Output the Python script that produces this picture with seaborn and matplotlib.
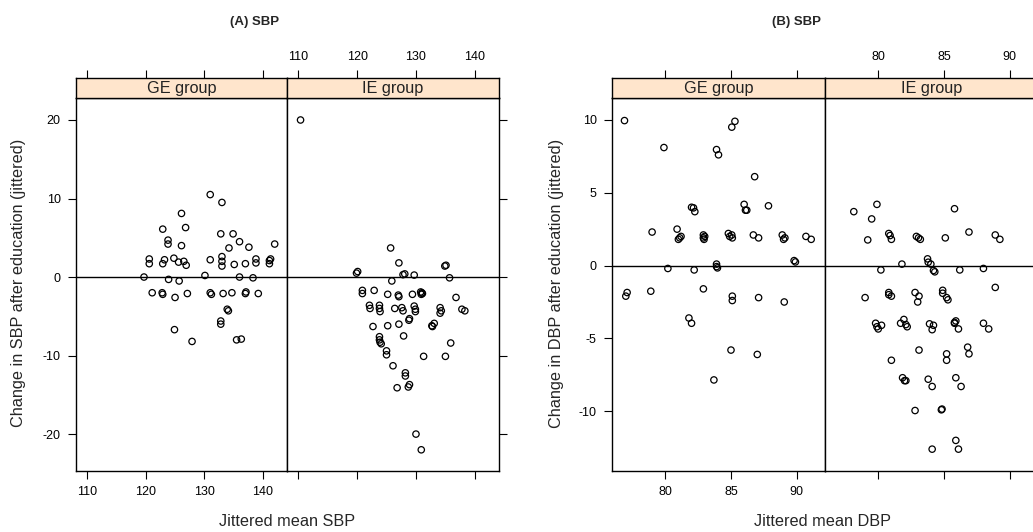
import numpy as np
import pandas as pd
import matplotlib
matplotlib.use("Agg")
import matplotlib.pyplot as plt
import seaborn as sns

sns.set_style("ticks")
plt.rcParams['font.family'] = ['Liberation Sans', 'DejaVu Sans']
plt.rcParams['axes.unicode_minus'] = False

# --- DATA ---
# (A) SBP, GE group
sbp_ge_x = [131.0, 133.0, 126.1, 122.9, 126.8, 123.8, 123.8, 126.1, 132.8, 134.9,
            136.0, 134.2, 137.6, 142.0, 120.6, 120.6, 122.9, 123.2, 124.8, 125.6,
            126.5, 126.9, 131.0, 133.0, 133.0, 133.0, 135.1, 137.0, 138.8, 138.8,
            141.1, 141.1, 141.3, 119.7, 123.9, 125.7, 130.1, 136.0, 138.3, 121.1,
            122.8, 122.9, 125.0, 127.1, 131.0, 131.2, 133.2, 134.7, 137.0, 137.1,
            139.2, 133.9, 134.1, 132.8, 132.8, 124.9, 127.9, 135.5, 136.3]
sbp_ge_y = [10.5, 9.5, 8.1, 6.1, 6.3, 4.7, 4.2, 4.0, 5.5, 5.5,
            4.5, 3.7, 3.8, 4.2, 2.3, 1.7, 1.7, 2.2, 2.4, 1.9,
            2.0, 1.5, 2.2, 2.6, 2.0, 1.4, 1.6, 1.7, 2.3, 1.8,
            2.1, 1.7, 2.3, 0.0, -0.3, -0.5, 0.2, 0.0, -0.1, -2.0,
            -2.0, -2.2, -2.6, -2.1, -2.0, -2.2, -2.1, -2.0, -2.1, -1.9,
            -2.1, -4.1, -4.3, -5.6, -6.0, -6.7, -8.2, -8.0, -7.9]

# (A) SBP, IE group
sbp_ie_x = [110.4, 125.7, 127.1, 119.9, 120.1, 127.8, 128.1, 129.7, 134.9, 135.1,
            125.9, 135.7, 120.9, 120.9, 122.9, 125.2, 127.0, 127.1, 129.4, 130.8,
            131.0, 131.1, 130.9, 136.8, 122.1, 122.2, 123.8, 123.8, 123.9, 126.4,
            127.6, 127.8, 129.7, 129.9, 129.9, 134.1, 134.3, 134.1, 137.8, 138.3,
            128.9, 122.7, 125.2, 127.1, 128.8, 132.7, 132.8, 133.1, 123.8, 123.8,
            123.9, 124.1, 127.9, 135.9, 125.0, 125.0, 131.3, 135.0, 126.1, 128.2,
            128.2, 126.8, 128.7, 128.9, 130.0, 130.9]
sbp_ie_y = [20.0, 3.7, 1.8, 0.5, 0.7, 0.3, 0.4, 0.25, 1.4, 1.5,
            -0.5, -0.1, -1.7, -2.1, -1.7, -2.2, -2.3, -2.5, -2.2, -1.9,
            -2.0, -2.1, -2.2, -2.6, -3.6, -4.0, -3.6, -4.0, -4.4, -4.0,
            -3.9, -4.3, -3.7, -4.1, -4.4, -3.9, -4.3, -4.6, -4.1, -4.3,
            -5.3, -6.3, -6.2, -6.0, -5.5, -6.2, -6.3, -5.9, -7.6, -8.0,
            -8.3, -8.5, -7.5, -8.4, -9.4, -9.9, -10.1, -10.1, -11.3, -12.2,
            -12.6, -14.1, -14.0, -13.7, -20.0, -22.0]

# (B) DBP, GE group
dbp_ge_x = [76.9, 79.9, 83.9, 84.05, 85.06, 85.3, 86.8, 82.0, 82.15, 82.25,
            86.0, 86.1, 86.2, 87.85, 79.0, 80.9, 81.0, 81.1, 81.2, 82.9,
            82.9, 83.0, 82.95, 84.8, 84.9, 85.06, 85.1, 86.7, 87.1, 88.9,
            89.0, 89.1, 90.7, 91.1, 80.2, 82.2, 83.9, 83.9, 83.97, 89.8,
            89.9, 77.0, 77.1, 78.9, 82.9, 85.1, 85.1, 87.1, 89.05, 81.8,
            82.0, 85.0, 87.0, 83.7]
dbp_ge_y = [9.95, 8.1, 7.96, 7.6, 9.5, 9.9, 6.1, 4.0, 3.96, 3.7,
            4.2, 3.8, 3.8, 4.1, 2.3, 2.5, 1.8, 1.9, 2.0, 2.1,
            1.9, 2.0, 1.8, 2.2, 2.0, 2.1, 1.9, 2.1, 1.9, 2.1,
            1.8, 1.9, 2.0, 1.8, -0.2, -0.3, 0.1, -0.07, -0.16, 0.34,
            0.25, -2.1, -1.85, -1.76, -1.6, -2.1, -2.4, -2.2, -2.5, -3.6,
            -3.96, -5.8, -6.1, -7.85]

# (B) DBP, IE group
dbp_ie_x = [78.14, 79.9, 79.5, 79.2, 80.8, 80.9, 81.0, 82.9, 83.06, 83.2,
            85.8, 85.1, 86.9, 88.9, 89.25, 81.8, 83.75, 83.8, 84.0, 84.2,
            84.3, 80.2, 86.2, 88.0, 88.9, 79.0, 80.8, 80.8, 81.0, 82.8,
            83.1, 83.0, 84.9, 84.9, 85.2, 85.3, 79.8, 79.9, 80.0, 80.25,
            81.7, 81.95, 82.1, 82.2, 83.9, 84.1, 84.2, 85.8, 85.8, 85.9,
            86.1, 88.0, 88.4, 83.1, 85.2, 85.2, 86.8, 86.9, 81.0, 81.85,
            82.0, 82.1, 83.8, 84.1, 85.9, 86.3, 82.8, 84.8, 84.85, 84.1,
            85.9, 86.1]
dbp_ie_y = [3.7, 4.2, 3.2, 1.76, 2.2, 2.06, 1.8, 2.0, 1.9, 1.8,
            3.9, 1.9, 2.3, 2.1, 1.8, 0.1, 0.46, 0.23, 0.1, -0.34,
            -0.43, -0.3, -0.3, -0.2, -1.5, -2.2, -1.85, -2.0, -2.1, -1.85,
            -2.1, -2.5, -1.7, -1.9, -2.2, -2.35, -3.96, -4.2, -4.35, -4.1,
            -3.96, -3.7, -4.05, -4.2, -4.0, -4.4, -4.1, -3.9, -3.96, -3.8,
            -4.35, -3.96, -4.35, -5.8, -6.06, -6.5, -5.6, -6.06, -6.5, -7.7,
            -7.9, -7.9, -7.8, -8.3, -7.7, -8.3, -9.95, -9.9, -9.85, -12.6,
            -12.0, -12.6]

groups = ["GE group", "IE group"]
sbp_xticks = [110, 120, 130, 140]
sbp_yticks = [-20, -10, 0, 10, 20]
dbp_xticks = [80, 85, 90]
dbp_yticks = [-10, -5, 0, 5, 10]

STRIP_COL = "#FFE5CC"
W, H = 1033, 532


def px_box(x0, y0, x1, y1):
    """piksel koordinatlarindan figure koordinatlarina"""
    return [x0 / W, 1 - y1 / H, (x1 - x0) / W, (y1 - y0) / H]


def draw_panel(fig, x0, x1, xs, ys, label, first, xlim, ylim, xticks, yticks):
    ax = fig.add_axes(px_box(x0, 98, x1, 471))
    sax = fig.add_axes(px_box(x0, 78, x1, 98), sharex=ax)

    df = pd.DataFrame({"x": xs, "y": ys})
    sns.scatterplot(data=df, x="x", y="y", ax=ax, marker="o", s=21,
                    facecolor="none", edgecolor="black", linewidth=0.9,
                    legend=False)
    ax.axhline(0, color="black", lw=1.0, zorder=0)

    ax.set_xlim(*xlim)
    ax.set_ylim(*ylim)
    ax.set_xticks(xticks)
    ax.set_yticks(yticks)
    ax.set_xlabel("")
    ax.set_ylabel("")

    tp = dict(direction="out", length=6, width=0.8, labelsize=9, pad=5, colors="black")
    if first:
        ax.tick_params(left=True, labelleft=True, right=False, labelright=False,
                       bottom=True, labelbottom=True, **tp)
    else:
        ax.tick_params(left=False, labelleft=False, right=True, labelright=False,
                       bottom=True, labelbottom=False, **tp)
    sax.tick_params(bottom=False, labelbottom=False, top=True, labeltop=not first,
                    left=False, labelleft=False, **tp)
    sax.set_yticks([])
    sax.set_facecolor(STRIP_COL)
    sax.text(0.5, 0.45, label, ha="center", va="center", fontsize=11.7,
             color="#222222", transform=sax.transAxes)

    for a in (ax, sax):
        for sp in a.spines.values():
            sp.set_color("black")
            sp.set_linewidth(1.0)
    return ax


fig = plt.figure(figsize=(W / 100, H / 100), dpi=100)

# (A) SBP
sbp_xlim = (108.1, 144.1)
sbp_ylim = (-24.7, 22.8)
draw_panel(fig, 76, 287, sbp_ge_x, sbp_ge_y, groups[0], True, sbp_xlim, sbp_ylim, sbp_xticks, sbp_yticks)
draw_panel(fig, 287, 499, sbp_ie_x, sbp_ie_y, groups[1], False, sbp_xlim, sbp_ylim, sbp_xticks, sbp_yticks)

# (B) DBP
dbp_xlim = (75.95, 92.15)
dbp_ylim = (-14.1, 11.5)
draw_panel(fig, 612, 825, dbp_ge_x, dbp_ge_y, groups[0], True, dbp_xlim, dbp_ylim, dbp_xticks, dbp_yticks)
draw_panel(fig, 825, 1038, dbp_ie_x, dbp_ie_y, groups[1], False, dbp_xlim, dbp_ylim, dbp_xticks, dbp_yticks)

# Basliklar ve eksen etiketleri
fig.text(255 / W, 1 - 22 / H, "(A) SBP", ha="center", va="center", fontsize=9.5, fontweight="bold")
fig.text(796 / W, 1 - 22 / H, "(B) SBP", ha="center", va="center", fontsize=9.5, fontweight="bold")
fig.text(287 / W, 1 - 521 / H, "Jittered mean SBP", ha="center", va="center", fontsize=11.7)
fig.text(823 / W, 1 - 521 / H, "Jittered mean DBP", ha="center", va="center", fontsize=11.7)
fig.text(19 / W, 1 - 283 / H, "Change in SBP after education (jittered)", ha="center", va="center",
         rotation=90, fontsize=11.7)
fig.text(556 / W, 1 - 283 / H, "Change in DBP after education (jittered)", ha="center", va="center",
         rotation=90, fontsize=11.7)

plt.savefig("out.png", dpi=100)
plt.close()
